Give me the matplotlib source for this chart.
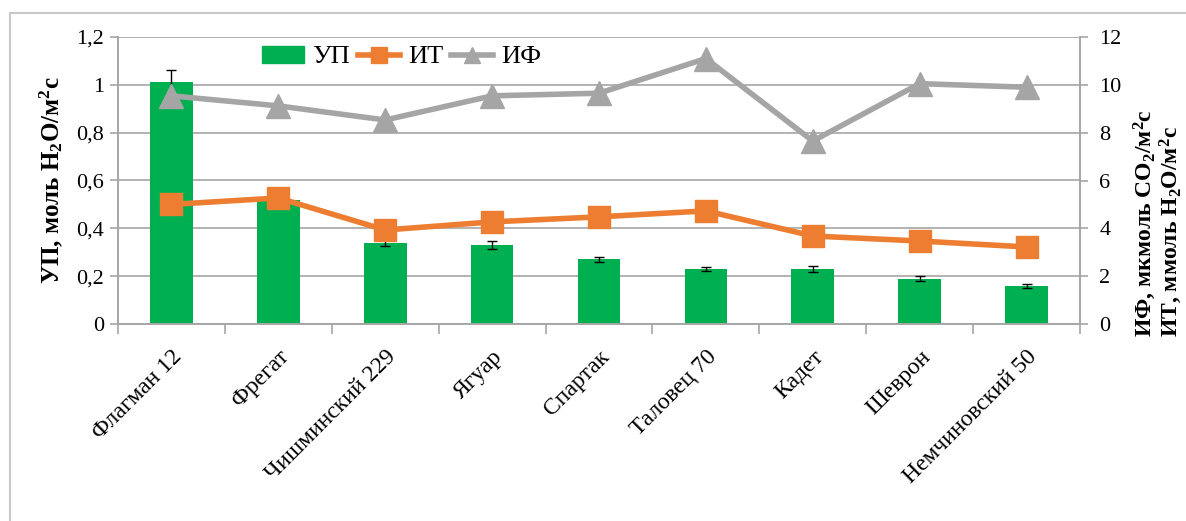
import matplotlib; matplotlib.use('Agg')
import matplotlib.pyplot as plt
from matplotlib.patches import Rectangle, Patch
from matplotlib.lines import Line2D
from matplotlib.ticker import FuncFormatter, FixedLocator
import numpy as np

plt.rcParams['font.family'] = ['Liberation Serif', 'DejaVu Serif']
plt.rcParams['mathtext.default'] = 'regular'

GREEN = '#00b050'; ORANGE = '#ed7d31'; GREY = '#a5a5a5'; GRID = '#a6a6a6'

varieties = ['Флагман 12', 'Фрегат', 'Чишминский 229', 'Ягуар', 'Спартак',
             'Таловец 70', 'Кадет', 'Шеврон', 'Немчиновский 50']
up = [1.01, 0.52, 0.34, 0.33, 0.27, 0.23, 0.23, 0.19, 0.16]
up_err = [0.05, 0.02, 0.015, 0.015, 0.01, 0.01, 0.012, 0.01, 0.008]
it = [5.0, 5.27, 3.93, 4.27, 4.48, 4.73, 3.68, 3.47, 3.22]
if_ = [9.54, 9.12, 8.53, 9.54, 9.65, 11.1, 7.65, 10.05, 9.9]

fig = plt.figure(figsize=(11.86, 5.21), dpi=100)
# outer chart-area border (cropped by the image edge)
fig.patches.append(Rectangle((10/1186, -0.2), 1.2, 1.2 - 13/521, transform=fig.transFigure,
                             fill=False, ec='#c8c8c8', lw=1.5))
ax = fig.add_axes([118/1186, 1-324/521, 962/1186, 287/521])
x = np.arange(len(varieties))
ax.bar(x, up, width=0.4, color=GREEN, zorder=2)
ax.errorbar(x, up, yerr=up_err, fmt='none', ecolor='black', elinewidth=1, capsize=3.5, capthick=1, zorder=3)
ax.set_ylim(0, 1.2); ax.set_xlim(-0.5, len(varieties)-0.5)
ax.set_yticks(np.arange(0, 1.21, 0.2))
ax.yaxis.set_major_formatter(FuncFormatter(lambda v, p: ('%g' % round(v, 1)).replace('.', ',')))
ax.grid(axis='y', color=GRID, lw=1.2, zorder=0)
ax.set_xticks(x)
ax.set_xticklabels(varieties, rotation=45, ha='right', rotation_mode='anchor', fontsize=17)
ax.tick_params(axis='x', which='major', length=0, pad=16)
ax.xaxis.set_minor_locator(FixedLocator(np.arange(-0.5, len(varieties), 1.0)))
ax.tick_params(axis='x', which='minor', length=7, color=GRID, width=1.2)
ax.tick_params(axis='y', length=6, color=GRID, width=1.2, labelsize=16, pad=4)
ax.spines['top'].set_visible(False)
for s in ['left', 'bottom', 'right']:
    ax.spines[s].set_color(GRID); ax.spines[s].set_linewidth(1.2)
ax.set_ylabel('УП, моль H$_2$O/м$^2$с', fontsize=18, fontweight='bold', labelpad=8)

ax2 = ax.twinx()
ax2.plot(x, it, color=ORANGE, lw=4, marker='s', ms=16, zorder=4)
ax2.plot(x, if_, color=GREY, lw=4, marker='^', ms=17, zorder=4)
ax2.set_ylim(0, 12)
ax2.set_yticks(np.arange(0, 13, 2))
ax2.tick_params(axis='y', length=6, color=GRID, width=1.2, labelsize=16, pad=8)
ax2.spines['top'].set_visible(False)
for s in ['left', 'bottom', 'right']:
    ax2.spines[s].set_color(GRID); ax2.spines[s].set_linewidth(1.2)

fig.text(1158/1186, 1-223/521, 'ИФ, мкмоль CO$_2$/м$^2$с\nИТ, ммоль H$_2$O/м$^2$с', rotation=90,
         ha='center', va='center', multialignment='left', fontsize=17, fontweight='bold',
         linespacing=0.95)

handles = [Patch(color=GREEN),
           Line2D([], [], color=ORANGE, lw=4, marker='s', ms=12),
           Line2D([], [], color=GREY, lw=4, marker='^', ms=12)]
ax2.legend(handles, ['УП', 'ИТ', 'ИФ'], loc='center', bbox_to_anchor=(0.295, 0.93), ncol=3,
           frameon=False, fontsize=19, handlelength=1.6, handletextpad=0.3, columnspacing=0.3,
           handleheight=0.6)

fig.savefig('out.png', dpi=100)
